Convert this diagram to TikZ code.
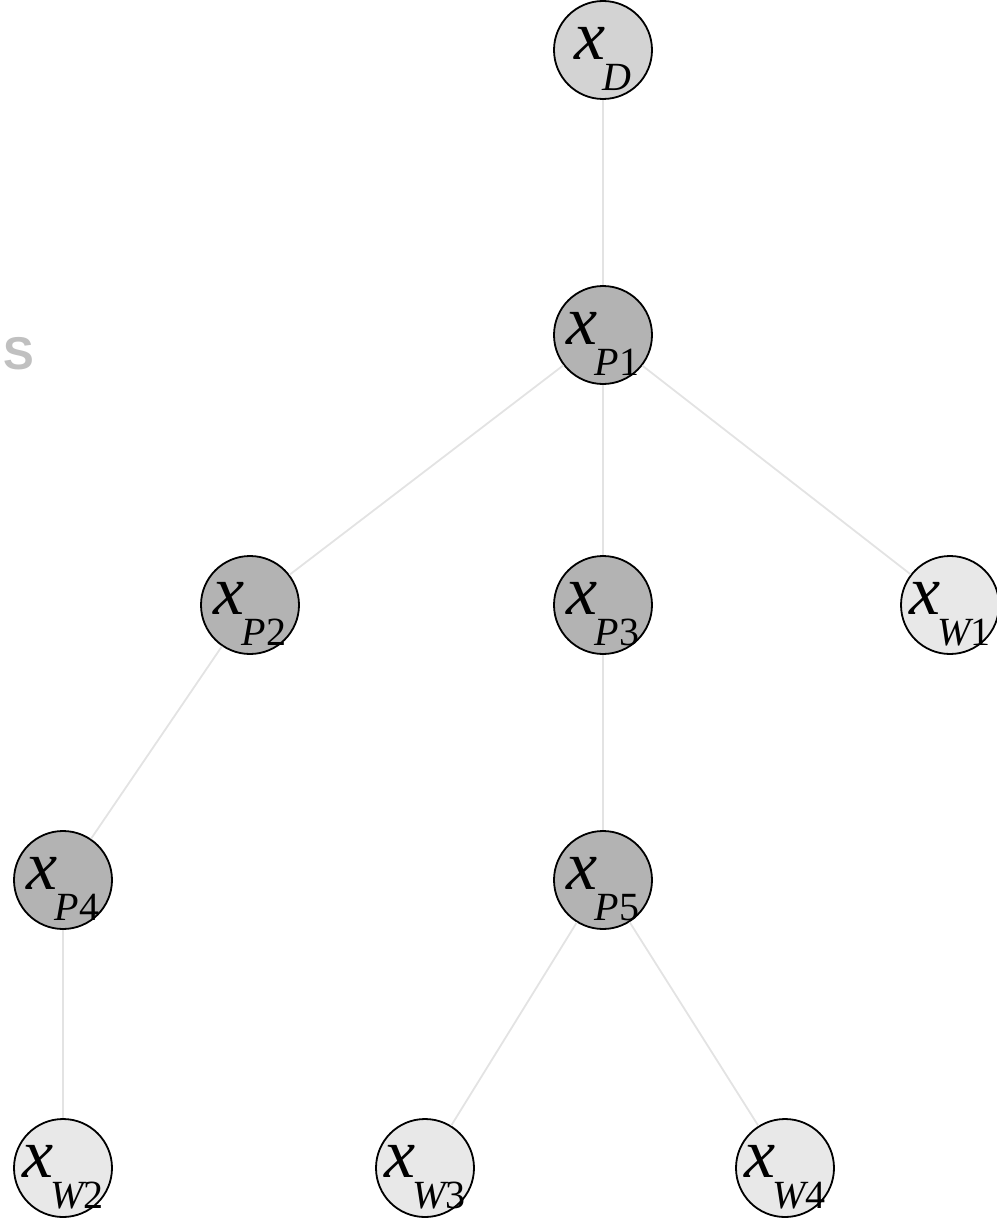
\documentclass[tikz,border=0pt]{standalone}
\usepackage{fontspec}
\setmainfont{Liberation Serif}
\newfontfamily\labelsans{Liberation Sans}
\usepackage{xcolor}
\usetikzlibrary{positioning}

\definecolor{fillD}{HTML}{D3D3D3}
\definecolor{fillP}{HTML}{B3B3B3}
\definecolor{fillW}{HTML}{E8E8E8}
\definecolor{edgegray}{HTML}{E3E3E3}
\definecolor{sgray}{HTML}{C0C0C0}

\newcommand{\xvar}[1]{{\fontsize{70}{70}\selectfont\itshape x}\kern-3pt\raisebox{-31pt}{\fontsize{40}{40}\selectfont #1}}

\tikzset{
  vnode/.style={circle, draw=black, line width=1.8pt, minimum size=98pt, inner sep=0pt},
  dnode/.style={vnode, fill=fillD},
  pnode/.style={vnode, fill=fillP},
  wnode/.style={vnode, fill=fillW},
  vlabel/.style={label={[inner sep=0pt, yshift=-9pt]center:#1}},
  edge/.style={draw=edgegray, line width=1.8pt}
}

\begin{document}
\begin{tikzpicture}[x=1pt,y=-1pt]
            \useasboundingbox (0,0) rectangle (996,1220);

            \node[dnode, vlabel={\xvar{\itshape D}}] (xD) at (603,50) {};
            \node[pnode, vlabel={\xvar{\itshape P\upshape 1}}] (xP1) at (603,335) {};
            \node[pnode, vlabel={\xvar{\itshape P\upshape 2}}] (xP2) at (250,605) {};
            \node[pnode, vlabel={\xvar{\itshape P\upshape 3}}] (xP3) at (603,605) {};
            \node[wnode, vlabel={\xvar{\itshape W\upshape 1}}] (xW1) at (950,605) {};
            \node[pnode, vlabel={\xvar{\itshape P\upshape 4}}] (xP4) at (63,880) {};
            \node[pnode, vlabel={\xvar{\itshape P\upshape 5}}] (xP5) at (603,880) {};
            \node[wnode, vlabel={\xvar{\itshape W\upshape 2}}] (xW2) at (63,1168) {};
            \node[wnode, vlabel={\xvar{\itshape W\upshape 3}}] (xW3) at (425,1168) {};
            \node[wnode, vlabel={\xvar{\itshape W\upshape 4}}] (xW4) at (785,1168) {};

            \node[text=sgray, font=\labelsans\bfseries\fontsize{46}{46}\selectfont] (sLabel) at (19,354) {S};

            \draw[edge] (xD) -- (xP1);
            \draw[edge] (xP1) -- (xP2);
            \draw[edge] (xP1) -- (xP3);
            \draw[edge] (xP1) -- (xW1);
            \draw[edge] (xP2) -- (xP4);
            \draw[edge] (xP3) -- (xP5);
            \draw[edge] (xP4) -- (xW2);
            \draw[edge] (xP5) -- (xW3);
            \draw[edge] (xP5) -- (xW4);
    \end{tikzpicture}
\end{document}
